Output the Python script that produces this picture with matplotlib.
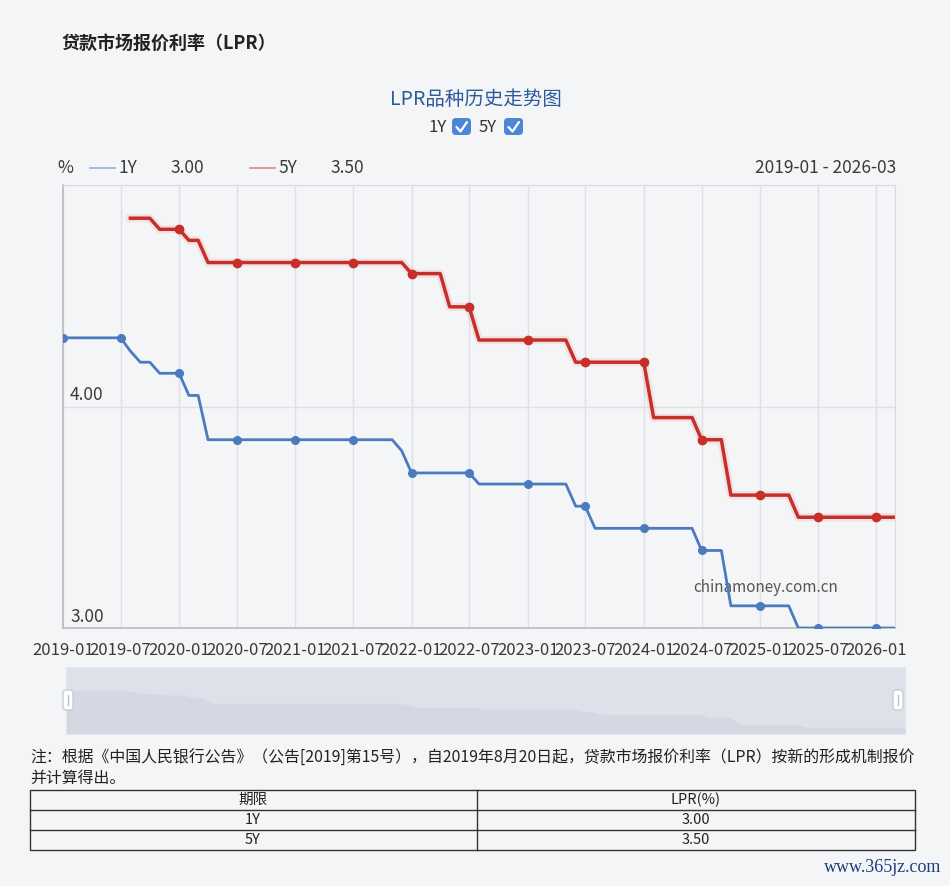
import pandas as pd
import matplotlib.pyplot as plt
import matplotlib.transforms as mtransforms
from matplotlib.patches import FancyBboxPatch, Rectangle

plt.rcParams['font.family'] = ['Noto Sans CJK SC', 'DejaVu Sans']

# monthly LPR fixings, 2019-01 .. 2026-03
months = pd.date_range('2019-01-01', '2026-03-01', freq='MS')

lpr_1y = [4.31, 4.31, 4.31, 4.31, 4.31, 4.31, 4.31, 4.25, 4.20, 4.20, 4.15, 4.15,
          4.15, 4.05, 4.05, 3.85, 3.85, 3.85, 3.85, 3.85, 3.85, 3.85, 3.85, 3.85,
          3.85, 3.85, 3.85, 3.85, 3.85, 3.85, 3.85, 3.85, 3.85, 3.85, 3.85, 3.80,
          3.70, 3.70, 3.70, 3.70, 3.70, 3.70, 3.70, 3.65, 3.65, 3.65, 3.65, 3.65,
          3.65, 3.65, 3.65, 3.65, 3.65, 3.55, 3.55, 3.45, 3.45, 3.45, 3.45, 3.45,
          3.45, 3.45, 3.45, 3.45, 3.45, 3.45, 3.35, 3.35, 3.35, 3.10, 3.10, 3.10,
          3.10, 3.10, 3.10, 3.10, 3.00, 3.00, 3.00, 3.00, 3.00, 3.00, 3.00, 3.00,
          3.00, 3.00, 3.00]

# 5Y quote starts 2019-08
lpr_5y = [4.85, 4.85, 4.85, 4.80, 4.80,
          4.80, 4.75, 4.75, 4.65, 4.65, 4.65, 4.65, 4.65, 4.65, 4.65, 4.65, 4.65,
          4.65, 4.65, 4.65, 4.65, 4.65, 4.65, 4.65, 4.65, 4.65, 4.65, 4.65, 4.65,
          4.60, 4.60, 4.60, 4.60, 4.45, 4.45, 4.45, 4.30, 4.30, 4.30, 4.30, 4.30,
          4.30, 4.30, 4.30, 4.30, 4.30, 4.20, 4.20, 4.20, 4.20, 4.20, 4.20, 4.20,
          4.20, 3.95, 3.95, 3.95, 3.95, 3.95, 3.85, 3.85, 3.85, 3.60, 3.60, 3.60,
          3.60, 3.60, 3.60, 3.60, 3.50, 3.50, 3.50, 3.50, 3.50, 3.50, 3.50, 3.50,
          3.50, 3.50, 3.50]

dates_1y = months
dates_5y = months[len(months) - len(lpr_5y):]

periods = ['1Y', '5Y']
latest = [lpr_1y[-1], lpr_5y[-1]]
y_ticks = [3.0, 4.0]

c1 = '#4a7bbf'
c5 = '#c62f2a'
bg = '#f4f5f7'
txt = '#3a3a3a'

fig = plt.figure(figsize=(9.5, 8.86), dpi=100, facecolor=bg)

# pixel-space overlay for text and decorations
deco = fig.add_axes([0, 0, 1, 1])
deco.set_xlim(0, 950)
deco.set_ylim(886, 0)
deco.axis('off')
deco.set_zorder(3)

ax = fig.add_axes([63/950, 1-628/886, 832/950, 443/886])
ax.set_zorder(1)
ax.set_facecolor('none')

# main lines
mk1 = [i for i, d in enumerate(dates_1y) if d.month in (1, 7)]
mk5 = [i for i, d in enumerate(dates_5y) if d.month in (1, 7)]
ax.plot(dates_5y, lpr_5y, color='#e26a66', lw=6, alpha=0.13, zorder=2)
ax.plot(dates_1y, lpr_1y, color=c1, lw=2, marker='o', ms=5.5,
        markevery=mk1, zorder=3)
ax.plot(dates_5y, lpr_5y, color=c5, lw=2.5, marker='o', ms=6,
        markevery=mk5, zorder=3)

ax.set_xlim(months[0], months[-1])
ax.set_ylim(3.0, 5.0)
xt = pd.date_range('2019-01-01', '2026-01-01', freq='6MS')
ax.set_xticks(xt)
ax.set_xticklabels([d.strftime('%Y-%m') for d in xt])
ax.set_yticks(y_ticks)
ax.set_yticklabels([])
ax.tick_params(axis='x', length=0, pad=10, labelsize=12, labelcolor=txt)
ax.tick_params(axis='y', length=0)
ax.grid(color='#dfe0e3', lw=1)
ax.set_axisbelow(True)
for s in ['left', 'bottom']:
    ax.spines[s].set_color('#b9bbbf')
    ax.spines[s].set_linewidth(1.2)
for s in ['top', 'right']:
    ax.spines[s].set_color('#d9dadd')

trans = mtransforms.blended_transform_factory(ax.transAxes, ax.transData)
for v in y_ticks:
    ax.annotate(f'{v:.2f}', xy=(0, v), xycoords=trans, xytext=(7, 2),
                textcoords='offset pixels', ha='left', va='bottom',
                fontsize=12.5, color=txt)

ax.text(693, 587, 'chinamoney.com.cn', transform=deco.transData,
        fontsize=11, color='#555', ha='left', va='center', zorder=1)

# data zoom slider with data shadow
sl = fig.add_axes([66/950, 1-734/886, 839/950, 67/886])
sl.set_zorder(1)
sl.set_facecolor('#dde1e9')
shadow = [0.1 + 0.55 * (v - 3.0) / 1.31 for v in lpr_1y]
sl.fill_between(dates_1y, 0, shadow, color='#d3d8e2', lw=0)
sl.set_xlim(months[0], months[-1])
sl.set_ylim(0, 1)
sl.set_xticks([])
sl.set_yticks([])
for s in sl.spines.values():
    s.set_color('#e4e6ec')
for hx in (63, 893):
    deco.add_patch(FancyBboxPatch((hx, 690), 10, 20,
                                  boxstyle='round,pad=0,rounding_size=3',
                                  fc='white', ec='#c8ccd4', lw=1))
    deco.plot([hx + 5, hx + 5], [695, 705], color='#b8bcc4', lw=1)

# titles
deco.text(61, 43, '贷款市场报价利率（LPR）', fontsize=13, fontweight='bold',
          color='#222', va='center', ha='left')
deco.text(476, 99, 'LPR品种历史走势图', fontsize=14, color='#2d5a9a',
          va='center', ha='center')

# series toggles
for label, tx, bx in [('1Y', 438, 452), ('5Y', 488, 504)]:
    deco.text(tx, 127, label, fontsize=12, color='#333', ha='center', va='center')
    deco.add_patch(FancyBboxPatch((bx, 118), 19, 17,
                                  boxstyle='round,pad=0,rounding_size=4',
                                  fc='#4b87d6', ec='none'))
    deco.plot([bx + 4.5, bx + 8.5, bx + 15], [127, 131.5, 122], color='white',
              lw=1.6, solid_capstyle='round')

# legend row
fs = 12.5
deco.text(57, 168, '%', fontsize=fs, color=txt, va='center', ha='left')
deco.plot([90, 115], [168, 168], color='#8fb0dd', lw=1.2)
deco.text(118, 168, periods[0], fontsize=fs, color=txt, va='center', ha='left')
deco.text(170, 168, f'{latest[0]:.2f}', fontsize=fs, color=txt, va='center', ha='left')
deco.plot([250, 275], [168, 168], color='#d98a88', lw=1.2)
deco.text(278, 168, periods[1], fontsize=fs, color=txt, va='center', ha='left')
deco.text(330, 168, f'{latest[1]:.2f}', fontsize=fs, color=txt, va='center', ha='left')
deco.text(896, 168, f'{months[0]:%Y-%m} - {months[-1]:%Y-%m}', fontsize=fs,
          color=txt, va='center', ha='right')

# footnote
deco.text(30, 758, '注：根据《中国人民银行公告》（公告[2019]第15号），自2019年8月20日起，'
          '贷款市场报价利率（LPR）按新的形成机制报价', fontsize=11.45, color='#222',
          va='center', ha='left')
deco.text(30, 778, '并计算得出。', fontsize=11.45, color='#222', va='center', ha='left')

# table
deco.add_patch(Rectangle((30, 790), 885, 60, fc='none', ec='#333', lw=1))
for yy in (810, 830):
    deco.plot([30, 915], [yy, yy], color='#333', lw=1)
deco.plot([477, 477], [790, 850], color='#333', lw=1)
deco.text(253, 800, '期限', fontsize=10.5, color='#222', ha='center', va='center')
deco.text(696, 800, 'LPR(%)', fontsize=10.5, color='#222', ha='center', va='center')
for i, (p, v) in enumerate(zip(periods, latest)):
    deco.text(253, 820 + 20 * i, p, fontsize=10.5, color='#222', ha='center', va='center')
    deco.text(696, 820 + 20 * i, f'{v:.2f}', fontsize=10.5, color='#222',
              ha='center', va='center')

deco.text(941, 868, 'www.365jz.com', family='Liberation Serif', fontsize=13,
          color='#1d3f7a', ha='right', va='center')

fig.savefig('out.png', dpi=100, facecolor=bg)
